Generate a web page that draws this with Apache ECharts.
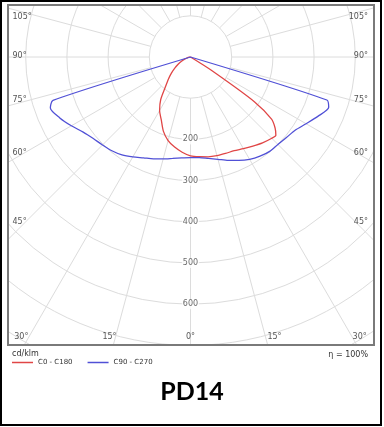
<!DOCTYPE html>
<html><head><meta charset="utf-8">
<script src="https://cdn.jsdelivr.net/npm/echarts@6/dist/echarts.min.js"></script>
<style>html,body{margin:0;padding:0;background:#fff}#c{width:384px;height:427px}</style>
</head><body><div id="c"></div>
<script>
// Luminous intensity distribution (cd/klm) against gamma angle (degrees from nadir)
const c0Angles   = [0,5,10,15,20,25,30,35,40,45,47.5,50,52.5,55,57.5,90];
const c0Values   = [240,243,246,248,249,251,257,264,272,279,281,268,248,190,60,0];
const c180Angles = [0,5,10,15,20,25,30,35,40,45,50,55,60,65,70,75,80,85,90];
const c180Values = [240,232,222,210,192,168,150,126,95,76,60,46,34,24,15,8,3,0,0];
const c90Angles  = [0,5,10,15,20,25,30,35,40,45,50,55,60,65,70,72.5,90];
const c90Values  = [244,245,250,257,267,277,287,294,299,300,304,310,324,341,357,347,0];
const c270Angles = [0,5,10,15,20,25,30,35,40,45,50,55,60,65,70,72.5,90];
const c270Values = [244,246,250,256,263,270,280,290,297,302,308,318,334,350,362,350,0];
const radialTicks = [200,300,400,500,600];
const sideAngleLabels = ['105°','90°','75°','60°','45°'];
const bottomAngleLabels = ['30°','15°','0°','15°','30°'];
const seriesNames = ['C0 - C180','C90 - C270'];
const unitLabel = 'cd/klm';
const efficiencyLabel = 'η = 100%';
const titleText = 'PD14';

// layout & styles
const CX = 190.5, CY = 57, PX_PER_UNIT = 0.412, RMAX = 900;
const sideLabelY = [16.7, 55.5, 100, 152.7, 221.7];
const bottomLabelX = [21.3, 109.5, 190.5, 274.5, 359.7];
const labelFont = '8px "DejaVu Sans"';
const RED = '#e04646', BLUE = '#5050d6';

// left half -> angle 360-g, right half -> angle g
function buildCurve(leftA, leftV, rightA, rightV) {
  const d = [];
  for (let i = leftA.length - 1; i >= 0; i--) d.push([leftV[i], (360 - leftA[i]) % 360]);
  for (let i = 1; i < rightA.length; i++) d.push([rightV[i], rightA[i]]);
  return d;
}
const redData = buildCurve(c180Angles, c180Values, c0Angles, c0Values);
const blueData = buildCurve(c270Angles, c270Values, c90Angles, c90Values);

const graphics = [
  // mask outside the plot frame
  {type:'rect', z:5, shape:{x:0,y:0,width:384,height:5}, style:{fill:'#fff'}},
  {type:'rect', z:5, shape:{x:0,y:0,width:8,height:427}, style:{fill:'#fff'}},
  {type:'rect', z:5, shape:{x:374,y:0,width:10,height:427}, style:{fill:'#fff'}},
  {type:'rect', z:5, shape:{x:0,y:345,width:384,height:82}, style:{fill:'#fff'}},
  {type:'rect', z:6, shape:{x:8,y:5,width:366,height:340}, style:{fill:null, stroke:'#7a7a7a', lineWidth:2}},
  {type:'rect', z:6, shape:{x:1,y:1,width:380,height:424}, style:{fill:null, stroke:'#000', lineWidth:2}},
  {type:'text', z:10, x:12, y:353.5, style:{text:unitLabel, font:'8px "DejaVu Sans"', fill:'#333', textVerticalAlign:'middle'}},
  {type:'text', z:10, x:368, y:354.5, style:{text:efficiencyLabel, font:'8px "DejaVu Sans"', fill:'#333', textAlign:'right', textVerticalAlign:'middle'}}
];
sideAngleLabels.forEach((t, i) => {
  graphics.push({type:'text', z:10, x:12.5, y:sideLabelY[i], style:{text:t, font:labelFont, fill:'#555', textVerticalAlign:'middle'}});
  graphics.push({type:'text', z:10, x:368, y:sideLabelY[i], style:{text:t, font:labelFont, fill:'#555', textAlign:'right', textVerticalAlign:'middle'}});
});
bottomAngleLabels.forEach((t, i) => {
  graphics.push({type:'text', z:10, x:bottomLabelX[i], y:336.5, style:{text:t, font:labelFont, fill:'#555', textAlign:'center', textVerticalAlign:'middle'}});
});

const chart = echarts.init(document.getElementById('c'), null, {renderer:'canvas'});
chart.setOption({
  animation:false,
  backgroundColor:'#fff',
  title:{text:titleText, left:'center', top:374, z:10,
    textStyle:{fontFamily:'Lato', fontWeight:'bold', fontSize:25, color:'#000'}},
  legend:{data:[{name:seriesNames[0], itemStyle:{color:RED}}, {name:seriesNames[1], itemStyle:{color:BLUE}}],
    left:12, top:359, padding:0, z:10, icon:'rect', itemWidth:21, itemHeight:1.5, itemGap:15,
    textStyle:{fontFamily:'DejaVu Sans', fontSize:7, color:'#333'}},
  polar:[
    {center:[CX,CY], radius:RMAX*PX_PER_UNIT},
    {center:[CX,CY], radius:[100*PX_PER_UNIT, RMAX*PX_PER_UNIT]}
  ],
  angleAxis:[
    {polarIndex:0, type:'value', min:0, max:360, startAngle:270, clockwise:false,
      axisLine:{show:false}, axisTick:{show:false}, axisLabel:{show:false}, splitLine:{show:false}},
    {polarIndex:1, type:'value', min:0, max:360, interval:15, startAngle:270, clockwise:false,
      axisLine:{show:false}, axisTick:{show:false}, axisLabel:{show:false},
      splitLine:{show:true, lineStyle:{color:'#dcdcdc', width:1}}}
  ],
  radiusAxis:[
    {polarIndex:0, type:'value', min:0, max:RMAX, interval:100,
      axisLine:{show:false}, axisTick:{show:false}, axisLabel:{show:false},
      splitLine:{show:true, lineStyle:{color:'#dcdcdc', width:1}}},
    {polarIndex:1, type:'value', min:0, max:RMAX, show:false,
      axisLine:{show:false}, axisTick:{show:false}, axisLabel:{show:false}, splitLine:{show:false}}
  ],
  series:[
    {name:seriesNames[0], type:'line', coordinateSystem:'polar', polarIndex:0, data:redData,
      symbol:'none', smooth:0.25, z:3, lineStyle:{color:RED, width:1.3}, itemStyle:{color:RED}},
    {name:seriesNames[1], type:'line', coordinateSystem:'polar', polarIndex:0, data:blueData,
      symbol:'none', smooth:0.25, z:3, lineStyle:{color:BLUE, width:1.3}, itemStyle:{color:BLUE}},
    {type:'scatter', coordinateSystem:'polar', polarIndex:0, data:radialTicks.map(v => [v, 0]),
      symbolSize:0, silent:true, z:2,
      label:{show:true, position:'inside', formatter:p => String(p.value[0]),
        fontFamily:'DejaVu Sans', fontSize:8, color:'#444', backgroundColor:'#fff', padding:[1,1]}}
  ],
  graphic:graphics
});
</script></body></html>
